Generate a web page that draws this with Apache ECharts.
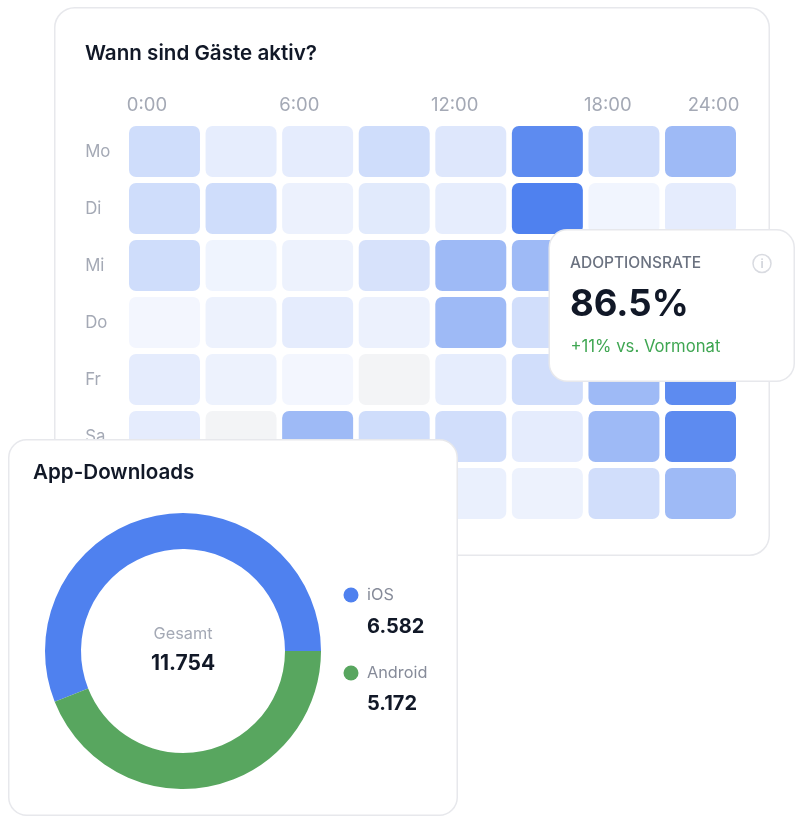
<!DOCTYPE html>
<html lang="de">
<head>
<meta charset="utf-8">
<title>Gäste-Aktivität und App-Downloads</title>
<script src="https://cdn.jsdelivr.net/npm/echarts@6/dist/echarts.min.js"></script>
<style>
  html, body { margin: 0; padding: 0; background: #ffffff; }
  #chart { width: 803px; height: 825px; }
</style>
</head>
<body>
<div id="chart"></div>
<script>
// Activity heatmap
const heatTitle = 'Wann sind Gäste aktiv?';
const days = ['Mo', 'Di', 'Mi', 'Do', 'Fr', 'Sa', 'So'];
const slots = ['0', '1', '2', '3', '4', '5', '6', '7'];
const hourLabels = ['0:00', '6:00', '12:00', '18:00', '24:00'];
const hourLabelSlots = [0.27, 2.26, 4.29, 6.29, 7.67];

const moValues = [27, 14, 15, 27, 19, 92, 26, 55];
const diValues = [27, 27, 11, 17, 14, 100, 8, 15];
const miValues = [27, 9, 10, 23, 55, 55, 30, 20];
const doValues = [7, 10, 15, 11, 55, 26, 30, 40];
const frValues = [15, 10, 7, 0, 14, 26, 55, 92];
const saValues = [15, 0, 55, 27, 26, 15, 55, 92];
const soValues = [10, 10, 14, 12, 12, 10, 26, 55];
const activity = [moValues, diValues, miValues, doValues, frValues, saValues, soValues];

// Adoption card
const adoptionLabel = 'ADOPTIONSRATE';
const adoptionValue = '86.5%';
const adoptionDelta = '+11% vs. Vormonat';

// Download donut
const downloadTitle = 'App-Downloads';
const platforms = ['iOS', 'Android'];
const downloads = [6582, 5172];
const totalLabel = 'Gesamt';

const BLUE = '#4f81ef';
const GREEN = '#58a65f';
const INK = '#111827';
const LINE = '#e7e8ec';
const FONT = 'Inter, "Noto Sans", sans-serif';

const fmt = n => n.toLocaleString('de-DE');
const total = downloads.reduce((a, b) => a + b, 0);

const heatData = [];
activity.forEach((row, y) => row.forEach((v, x) => heatData.push([x, y, v])));

// Blue ramp: share of the base blue over white, with a neutral grey for no activity.
function ramp(v) {
  if (v === 0) return '#f3f4f6';
  const a = v / 100;
  const mix = (c) => Math.round(255 + (c - 255) * a);
  return `rgb(${mix(0x4f)},${mix(0x81)},${mix(0xef)})`;
}

function card(x, y, w, h, r, z) {
  return {
    type: 'rect', z, silent: true,
    shape: { x: x + 0.75, y: y + 0.75, width: w - 1.5, height: h - 1.5, r },
    style: { fill: '#ffffff', stroke: LINE, lineWidth: 1.5 }
  };
}
function label(text, x, y, size, weight, fill, extra) {
  return {
    type: 'text', z: 30, silent: true, x, y,
    style: Object.assign({
      text, fontFamily: FONT, fontSize: size, fontWeight: weight, fill,
      verticalAlign: 'middle'
    }, extra || {})
  };
}

const legendItems = [];
const legendColors = [BLUE, GREEN];
const legendRows = [[595, 627], [673, 704]];
platforms.forEach((name, i) => {
  const [nameY, valueY] = legendRows[i];
  legendItems.push({
    type: 'circle', z: 30, silent: true,
    shape: { cx: 351, cy: nameY, r: 7.5 },
    style: { fill: legendColors[i] }
  });
  legendItems.push(label(name, 367, nameY, 16.3, 400, '#868b99'));
  legendItems.push(label(fmt(downloads[i]), 367, valueY, 20, 700, INK));
});

const chart = echarts.init(document.getElementById('chart'), null, { renderer: 'canvas' });
chart.setOption({
  animation: false,
  backgroundColor: '#ffffff',
  grid: { left: 126.2, top: 123, width: 612.6, height: 399 },
  xAxis: [
    {
      type: 'category', data: slots, position: 'top',
      axisLine: { show: false }, axisTick: { show: false }, axisLabel: { show: false }
    },
    {
      type: 'value', position: 'top', min: 0, max: 8,
      axisLine: { show: false }, axisTick: { show: false }, splitLine: { show: false },
      axisLabel: {
        customValues: hourLabelSlots,
        formatter: v => hourLabels[hourLabelSlots.indexOf(v)],
        margin: 8, fontFamily: FONT, fontSize: 18.5, color: '#a4a9b5', showMinLabel: true, showMaxLabel: true
      }
    }
  ],
  yAxis: {
    type: 'category', data: days, inverse: true,
    axisLine: { show: false }, axisTick: { show: false },
    axisLabel: { align: 'left', margin: 41, padding: [4, 0, 0, 0], fontFamily: FONT, fontSize: 16.8, color: '#a4a9b5' }
  },
  series: [
    {
      type: 'custom', name: 'Aktivität', xAxisIndex: 0, yAxisIndex: 0, z: 2, silent: true,
      data: heatData,
      encode: { x: 0, y: 1 },
      renderItem(params, api) {
        const c = api.coord([api.value(0), api.value(1)]);
        const s = api.size([1, 1]);
        const w = s[0] - 5.6, h = s[1] - 6;
        return {
          type: 'rect',
          shape: { x: c[0] - w / 2, y: c[1] - h / 2, width: w, height: h, r: 7 },
          style: { fill: ramp(api.value(2)) }
        };
      }
    },
    {
      type: 'pie', name: downloadTitle, z: 20, silent: true,
      center: [183, 651], radius: [102, 138],
      startAngle: 0, clockwise: false,
      label: { show: false }, labelLine: { show: false },
      data: platforms.map((name, i) => ({ name, value: downloads[i], itemStyle: { color: legendColors[i] } }))
    }
  ],
  graphic: { elements: [
    card(54, 7, 716, 549, 20, -1),
    label(heatTitle, 85, 54, 20.6, 600, INK),
    card(548.5, 229, 246.5, 153, 18, 10),
    label(adoptionLabel, 570, 263, 15.5, 500, '#6b7280'),
    label(adoptionValue, 570, 305, 36.5, 700, INK),
    label(adoptionDelta, 570.5, 347, 16.7, 400, '#3fa652'),
    {
      type: 'circle', z: 30, silent: true,
      shape: { cx: 762, cy: 263.5, r: 9 },
      style: { fill: '#ffffff', stroke: '#d9dbe1', lineWidth: 1.5 }
    },
    label('i', 762, 264, 12, 600, '#cfd2d9', { align: 'center' }),
    card(8, 439, 450, 377, 18, 10),
    label(downloadTitle, 33, 473, 20.6, 600, INK),
    label(totalLabel, 183, 634, 16.3, 400, '#a4a9b5', { align: 'center' }),
    label(fmt(total), 183, 664, 21, 700, INK, { align: 'center' })
  ].concat(legendItems) }
});
</script>
</body>
</html>
